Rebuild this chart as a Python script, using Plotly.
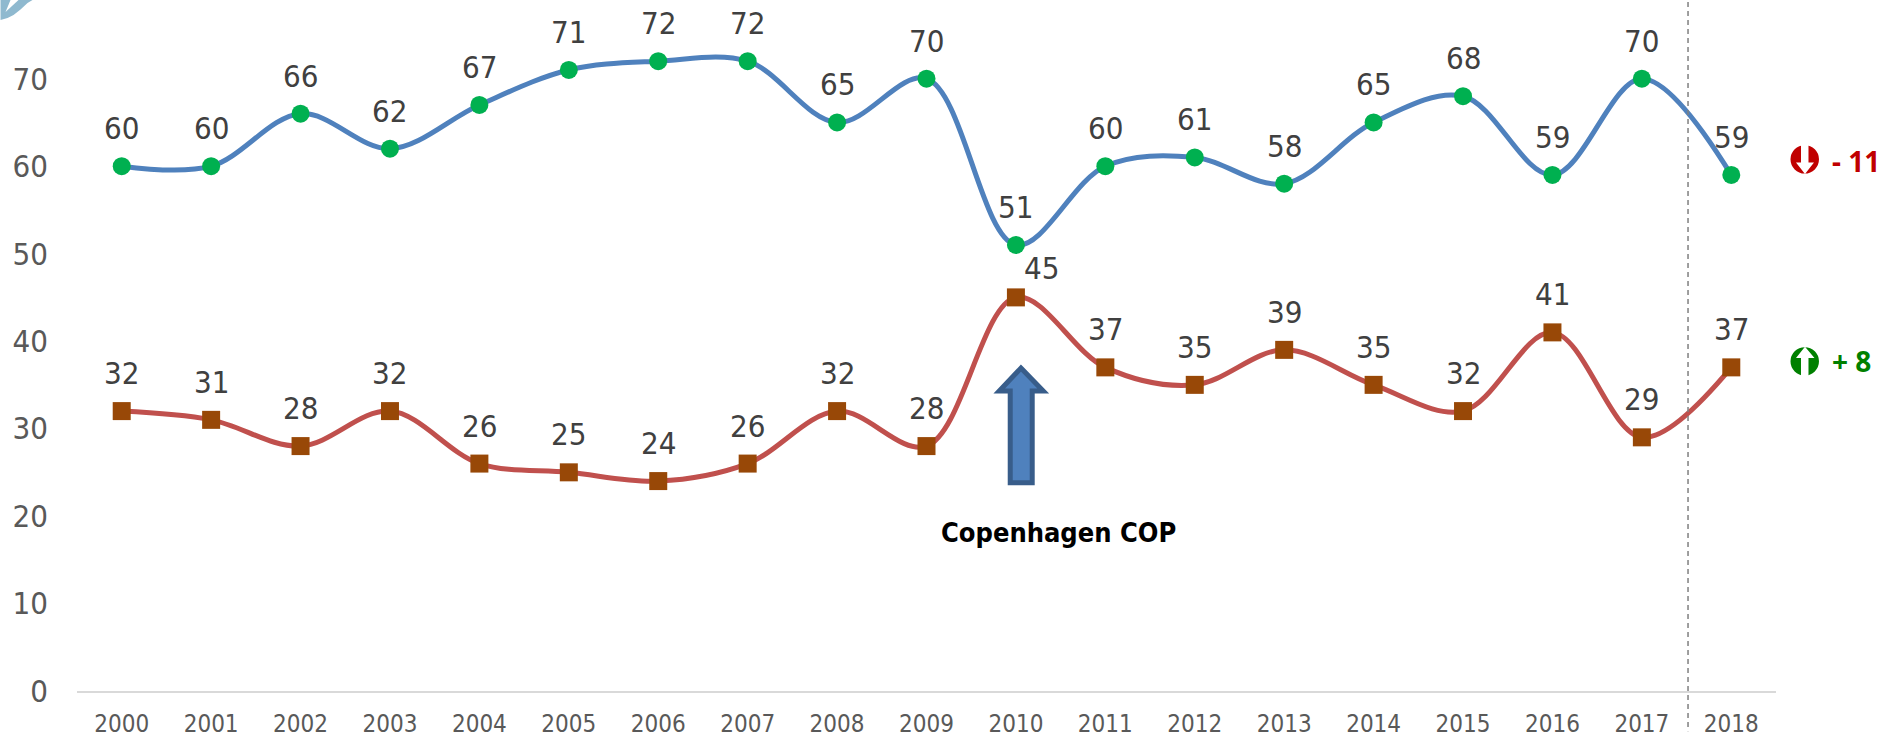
import plotly.graph_objects as go

W, H = 1896, 738
L, R, T, B = 76.5, 1776, 0, 692.7

years = ["2000","2001","2002","2003","2004","2005","2006","2007","2008","2009","2010","2011","2012","2013","2014","2015","2016","2017","2018"]
series_top = [60,60,66,62,67,71,72,72,65,70,51,60,61,58,65,68,59,70,59]
series_bottom = [32,31,28,32,26,25,24,26,32,28,45,37,35,39,35,32,41,29,37]
y_ticks = [0,10,20,30,40,50,60,70]

FONT = "DejaVu Sans Condensed"

def px(x):
    return (x - L) / (R - L)

def py(y):
    return (B - y) / (B - T)

def poly(points):
    return "M" + " L".join(f"{px(x):.5f},{py(y):.5f}" for x, y in points) + " Z"

fig = go.Figure()
annotations = []
for vals, color, mcolor, sym in [
    (series_top, "#4f81bd", "#00b050", "circle"),
    (series_bottom, "#c0504d", "#984807", "square"),
]:
    fig.add_trace(go.Scatter(
        x=years, y=vals, mode="lines+markers",
        line=dict(color=color, width=5, shape="spline", smoothing=1.0),
        marker=dict(color=mcolor, size=18, symbol=sym, line=dict(width=0)),
        showlegend=False, cliponaxis=False,
    ))
    for i, (yr, v) in enumerate(zip(years, vals)):
        # the 2010 lower label sits to the right of its marker in the reference
        moved = vals is series_bottom and yr == "2010"
        annotations.append(dict(
            xref="x", yref="y",
            x=i, y=v, text=str(v), showarrow=False, xanchor="center", yanchor="middle",
            xshift=26 if moved else 0, yshift=29 if moved else 38,
            font=dict(family=FONT, size=31, color="#404040"),
        ))

shapes = [
    dict(type="line", xref="paper", yref="paper", x0=px(1688), x1=px(1688), y0=py(2), y1=py(733),
         line=dict(color="#808080", width=1.5, dash="5px,4px")),
    dict(type="path", xref="paper", yref="paper",
         path=poly([(1020.7,369),(1043,392),(1032,392),(1032,484),(1010,484),(1010,392),(999,392)]),
         fillcolor="#4f81bd", line=dict(color="#385d8a", width=5)),
    dict(type="circle", xref="paper", yref="paper", x0=px(1790.5), x1=px(1819), y0=py(145.5), y1=py(174),
         fillcolor="#c00000", line=dict(width=0)),
    dict(type="path", xref="paper", yref="paper",
         path=poly([(1801,144),(1808.5,144),(1808.5,163),(1814,163),(1805,174.5),(1796,163),(1801,163)]),
         fillcolor="#ffffff", line=dict(width=0)),
    dict(type="circle", xref="paper", yref="paper", x0=px(1790.5), x1=px(1819), y0=py(348), y1=py(376.5),
         fillcolor="#008000", line=dict(width=0)),
    dict(type="path", xref="paper", yref="paper",
         path=poly([(1805,347.5),(1814.5,359),(1808.5,359),(1808.5,378),(1801,378),(1801,359),(1796,359)]),
         fillcolor="#ffffff", line=dict(width=0)),
    dict(type="path", xref="paper", yref="paper",
         path=poly([(0,20),(7,18),(13,15),(20,9.5),(27,3),(32,0),(0,0)]),
         fillcolor="#8fb9cf", line=dict(width=0)),
    dict(type="path", xref="paper", yref="paper",
         path=poly([(10,0),(5,12),(18,0)]),
         fillcolor="#ffffff", line=dict(width=0)),
]

annotations += [
    dict(text="<b>Copenhagen COP</b>", xref="paper", yref="paper", x=px(1058), y=py(534),
         showarrow=False, xanchor="center", yanchor="middle",
         font=dict(family=FONT, size=27, color="#000000")),
    dict(text="<b>- 11</b>", xref="paper", yref="paper", x=px(1830), y=py(161),
         showarrow=False, xanchor="left", yanchor="middle",
         font=dict(family="Noto Sans", size=28, color="#c00000")),
    dict(text="<b>+ 8</b>", xref="paper", yref="paper", x=px(1830), y=py(362),
         showarrow=False, xanchor="left", yanchor="middle",
         font=dict(family="Noto Sans", size=28, color="#008000")),
]

fig.update_layout(
    width=W, height=H, autosize=False,
    margin=dict(l=L, r=W - R, t=T, b=H - B, pad=0),
    paper_bgcolor="#ffffff", plot_bgcolor="#ffffff",
    hovermode=False,
    shapes=shapes, annotations=annotations,
    xaxis=dict(type="category", range=[-0.5, 18.5], showgrid=False, zeroline=False,
               showline=True, linecolor="#d9d9d9", linewidth=2, ticks="",
               ticklabelstandoff=10,
               tickfont=dict(family=FONT, size=24, color="#595959"), tickangle=0),
    yaxis=dict(range=[0, 79], tickvals=y_ticks, showgrid=False, zeroline=False, showline=False,
               ticks="", ticklabelstandoff=28,
               tickfont=dict(family=FONT, size=31, color="#595959")),
)
fig.write_html("out.html", config=dict(displayModeBar=False),
               post_script="document.body.style.margin='0';document.documentElement.style.overflow='hidden';")
